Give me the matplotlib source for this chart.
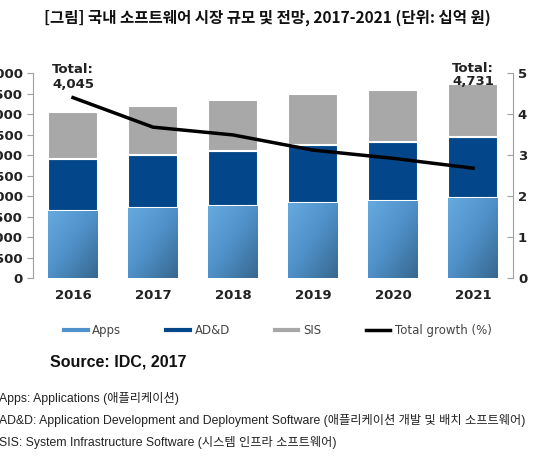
import numpy as np
import matplotlib
matplotlib.use('Agg')
import matplotlib.pyplot as plt
from matplotlib.lines import Line2D
from matplotlib.colors import LinearSegmentedColormap

plt.rcParams['font.family'] = ['DejaVu Sans', 'Noto Sans CJK KR']

years = ['2016', '2017', '2018', '2019', '2020', '2021']
apps = [1640, 1705, 1755, 1830, 1880, 1950]
add = [1265, 1285, 1355, 1405, 1430, 1480]
sis = [1140, 1210, 1235, 1260, 1285, 1301]
growth = [4.4, 3.68, 3.49, 3.12, 2.92, 2.68]
totals = ['4,045', '4,731']

title = '[그림] 국내 소프트웨어 시장 규모 및 전망, 2017-2021 (단위: 십억 원)'
notes = ['Apps: Applications (애플리케이션)',
         'AD&D: Application Development and Deployment Software (애플리케이션 개발 및 배치 소프트웨어)',
         'SIS: System Infrastructure Software (시스템 인프라 소프트웨어)']

c_apps = '#4f92cc'
c_add = '#03478a'
c_sis = '#a8a8a8'
apps_cmap = LinearSegmentedColormap.from_list('apps', ['#66aae0', '#4f90c8', '#37688f'])

fig = plt.figure(figsize=(5.34, 4.62), dpi=100)
ax = fig.add_axes([0.0618, 0.398, 0.899, 0.444])

x = np.arange(len(years))
w = 0.62
bottom2 = np.array(apps)
bottom3 = bottom2 + np.array(add)
apps_bars = ax.bar(x, apps, w, color=c_apps, edgecolor='white', linewidth=1.5)
ax.bar(x, add, w, bottom=bottom2, color=c_add, edgecolor='white', linewidth=1.5)
ax.bar(x, sis, w, bottom=bottom3, color=c_sis, edgecolor='white', linewidth=1.5)

# diagonal gradient on the Apps segments
gy, gx = np.mgrid[0:1:64j, 0:1:64j]
grad = (gx + gy) / 2
for bar in apps_bars:
    bx, by = bar.get_x(), bar.get_y()
    bw, bh = bar.get_width(), bar.get_height()
    im = ax.imshow(grad, cmap=apps_cmap, extent=[bx, bx + bw, by, by + bh],
                   origin='upper', aspect='auto', zorder=bar.get_zorder() + 0.1)
    im.set_clip_path(bar)
ax.set_aspect('auto')

ax.set_xlim(-0.5, 5.5)
ax.set_ylim(0, 5000)
ax.set_yticks(np.arange(0, 5001, 500))
ax.set_yticklabels([f'{v:,}' for v in range(0, 5001, 500)])
ax.set_xticks(x)
ax.set_xticklabels(years)
for s in ['top', 'bottom', 'right']:
    ax.spines[s].set_visible(False)
ax.spines['left'].set_color('#a0a0a0')
ax.tick_params(axis='y', colors='#a0a0a0', labelcolor='#222222', length=4, labelsize=9.5)
ax.tick_params(axis='x', length=0, labelsize=9.5, pad=8, labelcolor='#222222')
for lab in ax.get_xticklabels() + ax.get_yticklabels():
    lab.set_fontweight('bold')

ax2 = ax.twinx()
ax2.plot(x, growth, color='black', linewidth=2.5, zorder=5)
ax2.set_ylim(0, 5)
ax2.set_yticks(range(0, 6))
for s in ['top', 'bottom', 'left']:
    ax2.spines[s].set_visible(False)
ax2.spines['right'].set_color('#a0a0a0')
ax2.tick_params(axis='y', direction='in', colors='#a0a0a0', labelcolor='#222222', length=4, labelsize=9.5)
for lab in ax2.get_yticklabels():
    lab.set_fontweight('bold')

ax2.text(0, 4.9, 'Total:\n' + totals[0], ha='center', va='center', fontsize=9.5,
         fontweight='bold', color='#222222', linespacing=1.2, zorder=6)
ax2.text(5, 4.95, 'Total:\n' + totals[1], ha='center', va='center', fontsize=9.5,
         fontweight='bold', color='#222222', linespacing=0.95, zorder=6)

fig.text(0.5, 0.962, title, ha='center', va='center', fontsize=11.2,
         fontweight='bold', family=['Noto Sans CJK KR'], color='#111111')

handles = [Line2D([], [], color=c_apps, lw=3),
           Line2D([], [], color=c_add, lw=3),
           Line2D([], [], color=c_sis, lw=3),
           Line2D([], [], color='black', lw=2.5)]
fig.legend(handles, ['Apps', 'AD&D', 'SIS', 'Total growth (%)'], ncol=4,
           loc='center', bbox_to_anchor=(0.52, 0.285), frameon=False,
           fontsize=8.5, handlelength=2.0, handletextpad=0.4, columnspacing=3.8,
           labelcolor='#444444')

fig.text(0.094, 0.216, 'Source: IDC, 2017', fontsize=11.5, fontweight='bold',
         family=['Liberation Sans'], va='center', color='#111111')
for i, line in enumerate(notes):
    fig.text(-0.002, 0.138 - i * 0.0475, line, fontsize=8.8,
             family=['Liberation Sans', 'Noto Sans CJK KR'], va='center', color='#222222')

fig.savefig('out.png', dpi=100)
